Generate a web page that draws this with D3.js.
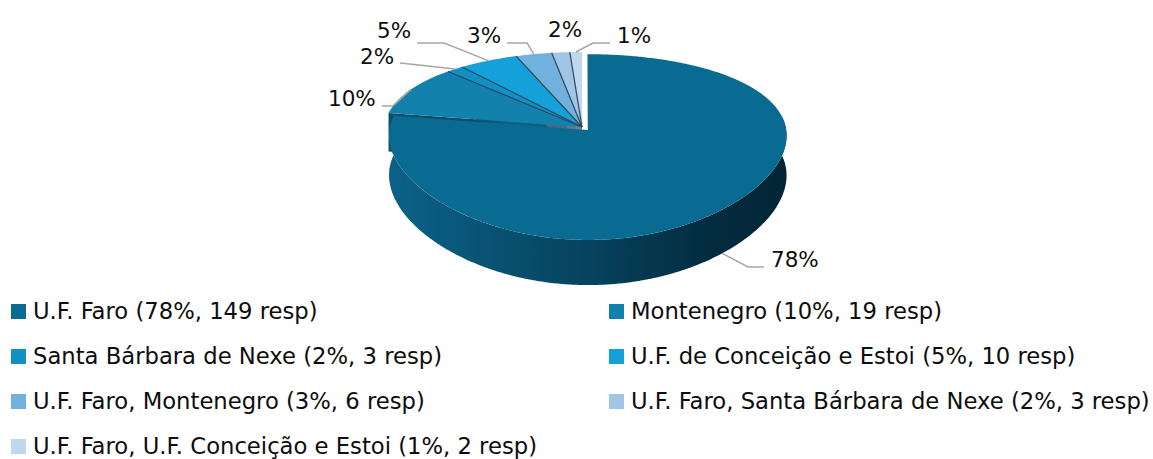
<!DOCTYPE html>
<html>
<head>
<meta charset="utf-8">
<script src="https://cdn.jsdelivr.net/npm/d3@7"></script>
<style>
  body { margin: 0; background: #fff; }
  text { font-family: "DejaVu Sans", sans-serif; fill: #0d0d0d; }
</style>
</head>
<body>
<div id="chart"></div>
<script>
// data
const categories = [
  "U.F. Faro",
  "Montenegro",
  "Santa Bárbara de Nexe",
  "U.F. de Conceição e Estoi",
  "U.F. Faro, Montenegro",
  "U.F. Faro, Santa Bárbara de Nexe",
  "U.F. Faro, U.F. Conceição e Estoi"
];
const responses = [149, 19, 3, 10, 6, 3, 2];
const colors = ["#0a6b92", "#1281ae", "#1190c5", "#14a0d8", "#72b1dd", "#a1c5e5", "#c0d8ed"];
const explode = [0.045, 0, 0, 0, 0, 0, 0];

// where Excel put the percent labels (text x, baseline, leader y, elbow length, side)
const labelLayout = [
  {x: 771, y: 267, ly: 267, len: 16, side: "right"},
  {x: 328, y: 106, ly: 106, len: 11, side: "left"},
  {x: 360, y: 64,  ly: 63,  len: 0,  side: "left"},
  {x: 377, y: 38,  ly: 43,  len: 27, side: "left"},
  {x: 467, y: 43,  ly: 43,  len: 20, side: "left"},
  {x: 548, y: 37,  ly: 0,   len: 0,  side: "none"},
  {x: 617, y: 43,  ly: 43,  len: 17, side: "right"}
];

const width = 1153, height = 459;
const total = d3.sum(responses);
const pct = v => Math.round(v / total * 100) + "%";

const data = categories.map((c, i) => ({name: c, v: responses[i], color: colors[i], ex: explode[i]}));
const arcs = d3.pie().sort(null).value(d => d.v)(data);

// 3d projection of the pie disk (unit radius)
const cx = 582, cy = 127, rx = 198, ax = 0.06;
const F = 922.6, D = 4.86, SIN = 0.467, COS = 0.884, H = 0.24;

function project(X, Z, Y) {
  const yc = Y * COS - Z * SIN;
  const depth = D - (Z * COS + Y * SIN);
  return [cx + rx * X * (1 + ax * Z), cy - F * yc / depth];
}
function offsetOf(a) {
  const mid = (a.startAngle + a.endAngle) / 2;
  return [a.data.ex * Math.sin(mid), -a.data.ex * Math.cos(mid)];
}
function rim(ang, off, Y) {
  return project(Math.sin(ang) + off[0], -Math.cos(ang) + off[1], Y);
}
function arcPts(a0, a1, off, Y) {
  const n = Math.max(2, Math.ceil((a1 - a0) / 0.01));
  return d3.range(n + 1).map(i => rim(a0 + (a1 - a0) * i / n, off, Y));
}

const svg = d3.select("#chart").append("svg")
  .attr("width", width)
  .attr("height", height);

const defs = svg.append("defs");
const grad = defs.append("linearGradient")
  .attr("id", "side")
  .attr("gradientUnits", "userSpaceOnUse")
  .attr("x1", cx - rx).attr("x2", cx + rx + 8)
  .attr("y1", 0).attr("y2", 0);
[[0, "#0c628a"], [0.3, "#08506f"], [0.55, "#054059"], [0.8, "#032c3f"], [1, "#022535"]]
  .forEach(([o, c]) => grad.append("stop").attr("offset", o).attr("stop-color", c));

const line = d3.line();
const pie = svg.append("g");

// side walls first
arcs.forEach(a => {
  const off = offsetOf(a);
  // outer wall, only the front part can show
  const lo = Math.max(a.startAngle, Math.PI / 2 - 0.15);
  const hi = Math.min(a.endAngle, 3 * Math.PI / 2 + 0.15);
  if (hi > lo) {
    const pts = arcPts(lo, hi, off, 0).concat(arcPts(lo, hi, off, -H).reverse());
    pie.append("path").attr("d", line(pts) + "Z").attr("fill", "url(#side)");
  }
  // start wall of the small slices (shows where the big slice is pulled out)
  if (a.index > 0) {
    const pts = [project(off[0], off[1], 0), rim(a.startAngle, off, 0),
                 rim(a.startAngle, off, -H), project(off[0], off[1], -H)];
    pie.append("path").attr("d", line(pts) + "Z")
      .attr("fill", d3.color(a.data.color).darker(1.4));
  }
});

// top faces
arcs.forEach(a => {
  const off = offsetOf(a);
  const pts = [project(off[0], off[1], 0)].concat(arcPts(a.startAngle, a.endAngle, off, 0));
  pie.append("path").attr("d", line(pts) + "Z").attr("fill", a.data.color);
});

// thin dark seams between the small slices
arcs.slice(2).forEach(a => {
  const off = offsetOf(a);
  pie.append("path")
    .attr("d", line([project(off[0], off[1], 0), rim(a.startAngle, off, 0)]))
    .attr("stroke", "#2c475c").attr("stroke-width", 1.2).attr("fill", "none");
});

// percent labels + leader lines
const labels = svg.append("g").attr("font-size", 21.5);
arcs.forEach((a, i) => {
  const L = labelLayout[i];
  const t = labels.append("text").attr("x", L.x).attr("y", L.y).text(pct(a.value));
  if (L.side === "none") return;
  const off = offsetOf(a);
  const mid = (a.startAngle + a.endAngle) / 2;
  const anchor = rim(mid, off, i === 0 ? -H : 0);
  const w = t.node().getComputedTextLength();
  let p0, p1;
  if (L.side === "left") {
    p0 = [L.x + w + 6, L.ly];
    p1 = [p0[0] + L.len, L.ly];
  } else {
    p0 = [L.x - 7, L.ly];
    p1 = [p0[0] - L.len, L.ly];
  }
  svg.append("path").attr("d", line([p0, p1, anchor]))
    .attr("fill", "none").attr("stroke", "#a6a6a6").attr("stroke-width", 1.5);
});

// legend, two columns
const legend = svg.append("g").attr("font-size", 22.7);
data.forEach((d, i) => {
  const col = i % 2, row = Math.floor(i / 2);
  const x = col === 0 ? 11 : 609;
  const base = 319 + row * 45;
  legend.append("rect").attr("x", x).attr("y", base - 15)
    .attr("width", 15).attr("height", 15).attr("fill", d.color);
  legend.append("text").attr("x", x + 22).attr("y", base)
    .text(`${d.name} (${pct(d.v)}, ${d.v} resp)`);
});
</script>
</body>
</html>
